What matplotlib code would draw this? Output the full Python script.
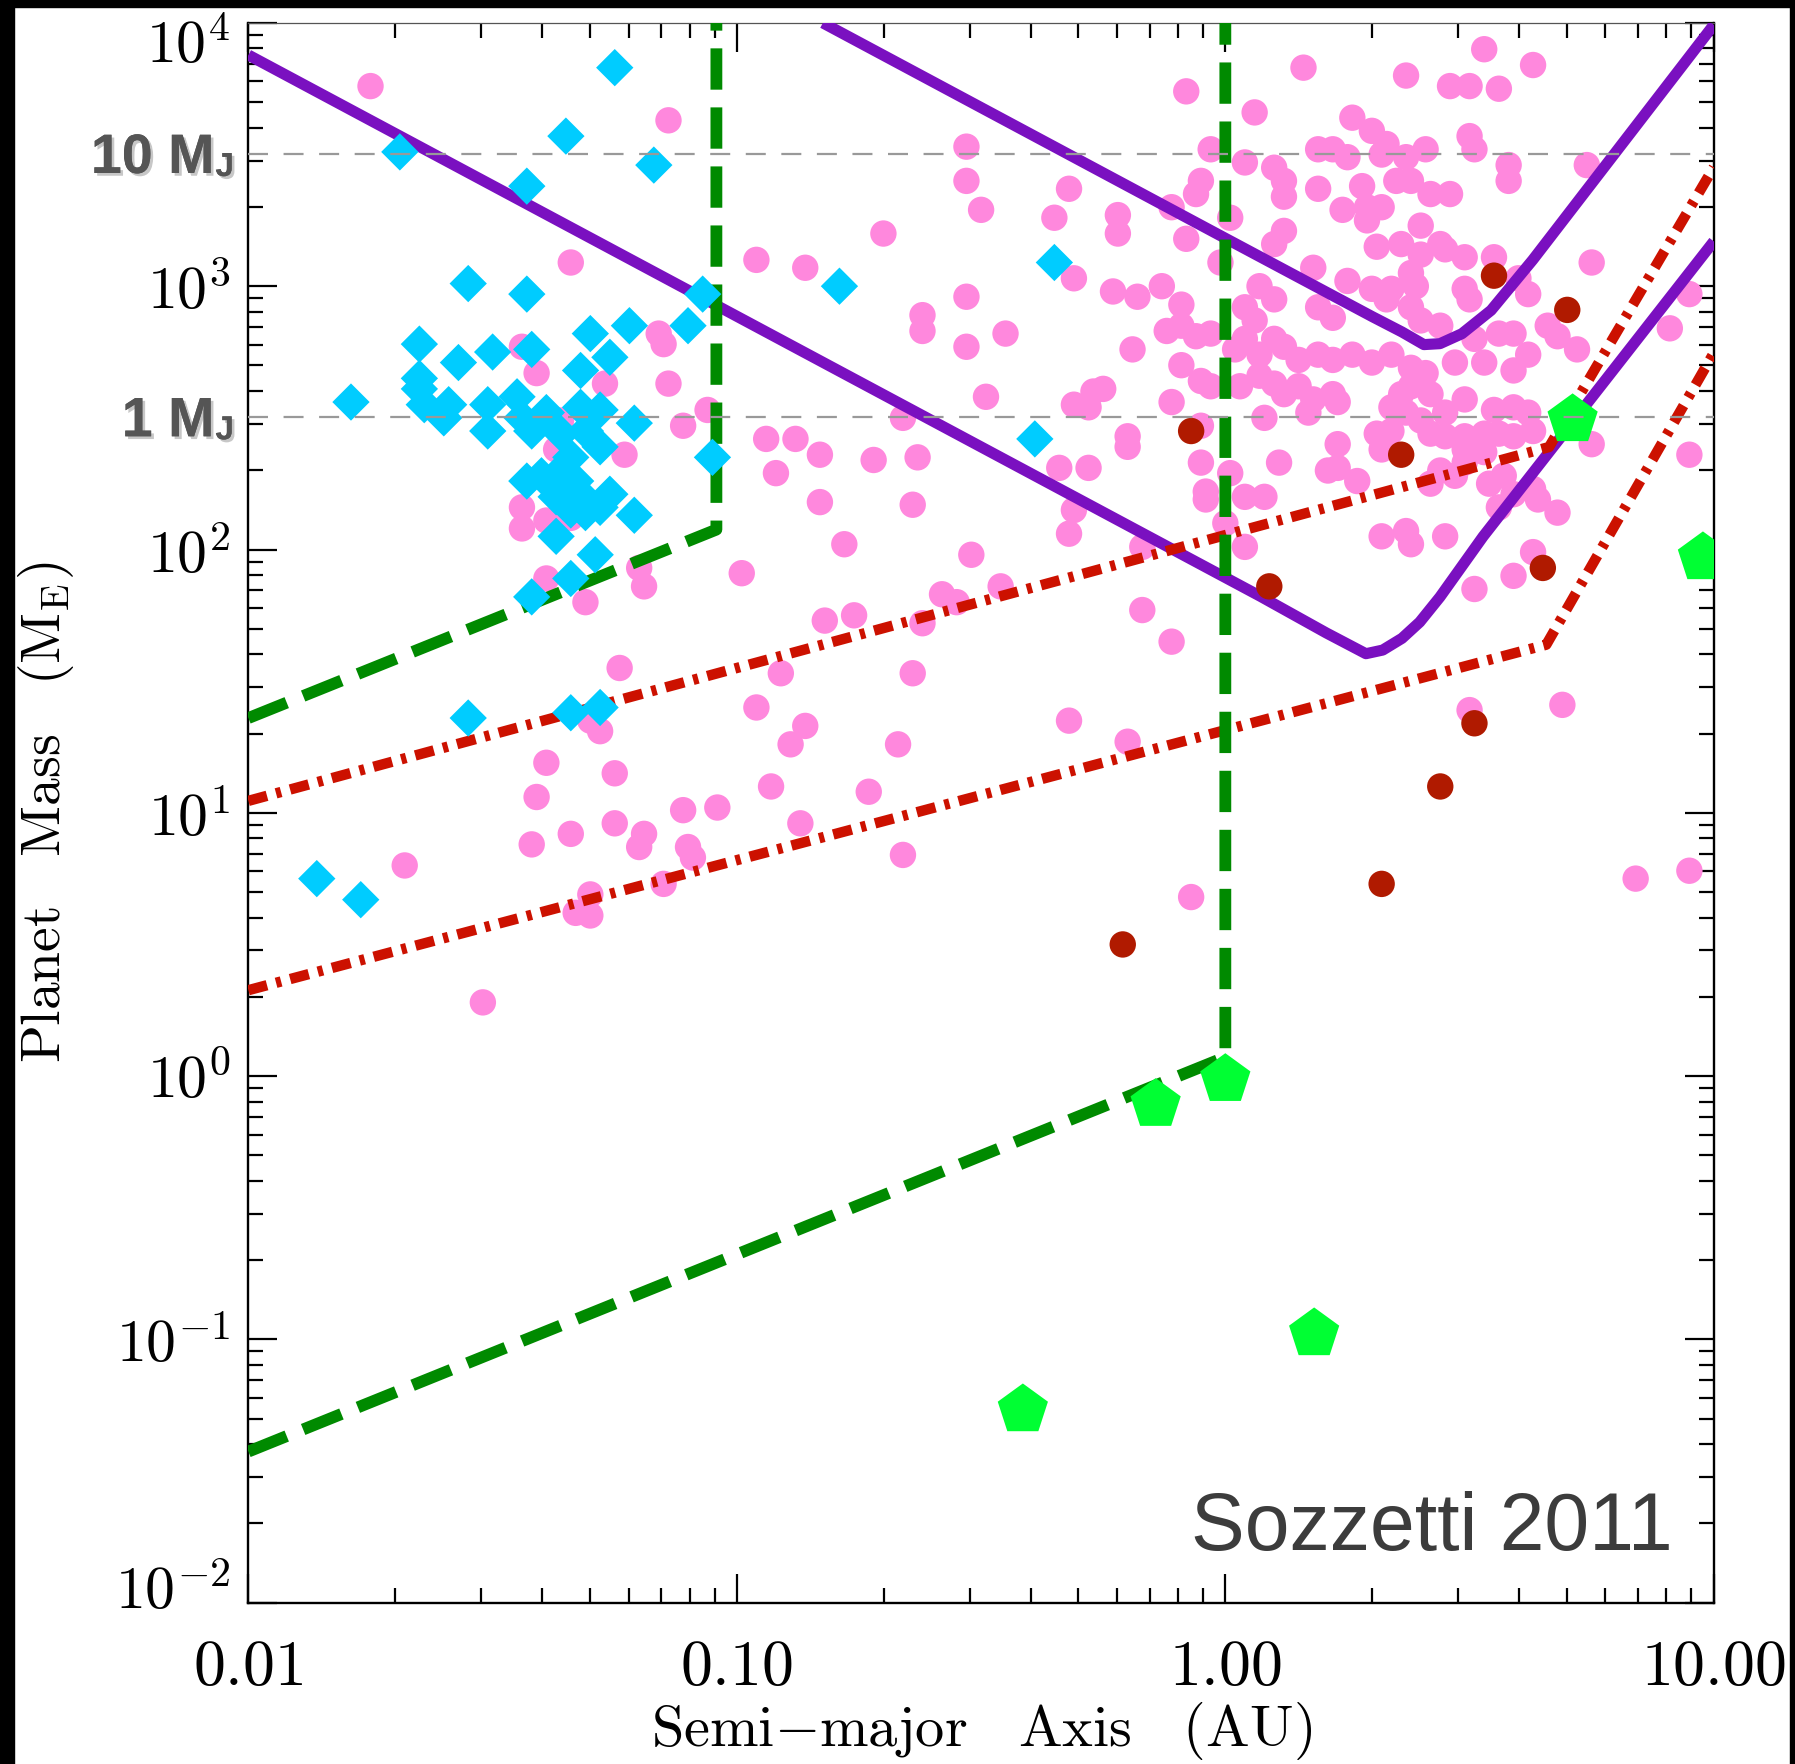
import numpy as np
import matplotlib
matplotlib.use('Agg')
from matplotlib import pyplot as plt
from matplotlib import patheffects
from matplotlib.patches import Rectangle
from matplotlib.ticker import LogLocator, NullFormatter
import matplotlib.transforms as mtransforms

plt.rcParams['mathtext.fontset'] = 'cm'

# ---- data (log10 of a [AU] and of M [Earth masses]) ----
# known exoplanets found by radial velocity (pink)
pink_loga = [-1.75, -1.14, -1.34, -1.16, -1.15, -1.44, -1.41, -1.27, -1.14, -1.06,
             -1.11, -1.23, -1.36, -1.37, -1.44, -1.44, -1.39, -1.34, -1.39, -1.31,
             -1.20, -1.19, -0.99, -1.24, -1.30, -1.28, -0.96, -1.39, -1.25, -1.41,
             -1.25, -1.19, -1.20, -1.11, -1.04, -1.34, -1.42, -1.10, -1.09, -1.68,
             -1.30, -1.15, -1.33, -1.30, -1.52, -0.96, -0.86, -0.70, -0.53, -0.53,
             -0.50, -0.32, -0.35, -0.22, -0.22, -0.11, -0.08, -0.08, -0.31, -0.53,
             -0.62, -0.62, -0.53, -0.45, -0.23, -0.18, -0.13, -0.19, -0.09, -0.49,
             -0.27, -0.31, -0.28, -0.11, -0.94, -0.88, -0.83, -0.72, -0.63, -0.92,
             -0.66, -0.83, -0.64, -0.20, -0.34, -0.28, -0.31, -0.32, -0.78, -0.52,
             -0.46, -0.58, -0.55, -0.17, -0.82, -0.76, -0.62, -0.17, -0.11, 0.00,
             0.04, -0.04, -0.91, -0.64, -0.86, -0.89, -0.67, -0.32, -0.20, -0.93,
             -0.73, -0.87, -0.66, -0.07, 0.06, 0.26, 0.30, 0.33, 0.50, 0.51,
             0.19, 0.22, 0.25, 0.32, 0.37, 0.41, 0.58, 0.58, 0.74, -0.03,
             0.04, 0.10, 0.12, -0.05, -0.06, 0.19, 0.12, 0.28, 0.35, 0.38,
             0.42, 0.46, 0.24, 0.29, 0.32, 0.29, 0.40, 0.01, 0.12, 0.10,
             0.31, 0.36, 0.40, 0.44, 0.45, 0.49, 0.55, 0.75, -0.01, 0.18,
             0.25, 0.30, 0.34, 0.38, 0.39, 0.49, 0.50, 0.62, -0.09, 0.07,
             0.10, 0.04, 0.06, 0.19, 0.22, 0.33, 0.38, 0.40, 0.44, 0.66,
             0.68, 0.72, -0.12, -0.09, -0.06, -0.03, 0.07, 0.02, 0.04, 0.10,
             0.12, 0.15, 0.19, 0.22, 0.26, 0.30, 0.34, 0.38, 0.41, 0.47,
             0.51, 0.53, 0.56, 0.59, 0.59, 0.62, -0.05, -0.03, 0.07, 0.10,
             0.03, 0.12, 0.15, 0.18, 0.22, 0.23, 0.36, 0.34, 0.38, 0.42,
             0.49, 0.08, 0.17, 0.37, 0.40, 0.45, 0.55, 0.59, 0.62, -0.25,
             -0.20, -0.05, 0.23, 0.31, 0.32, 0.34, 0.42, 0.45, 0.49, 0.53,
             0.56, 0.59, 0.49, 0.53, 0.63, 0.75, -0.05, 0.01, 0.11, 0.21,
             0.23, 0.27, 0.44, 0.47, 0.49, 0.54, 0.57, 0.59, 0.63, 0.56,
             0.68, 0.64, -0.04, 0.04, 0.08, 0.42, 0.32, 0.37, 0.38, 0.45,
             0.63, 0.59, 0.51, 0.53, 0.16, 0.37, 0.46, 0.50, 0.56, 0.63,
             0.95, 0.91, 0.95, 0.60, 0.50, 0.69, 0.84, 0.95]
pink_logm = [3.76, 3.63, 3.09, 2.82, 2.78, 2.77, 2.67, 2.63, 2.63, 2.53,
             2.47, 2.36, 2.49, 2.38, 2.16, 2.08, 2.11, 2.12, 1.89, 1.80,
             1.93, 1.86, 1.91, 1.55, 1.35, 1.31, 1.40, 1.19, 1.15, 1.06,
             0.96, 0.92, 0.87, 1.01, 1.02, 0.92, 0.88, 0.87, 0.83, 0.80,
             0.69, 0.73, 0.62, 0.61, 0.28, 3.10, 3.07, 3.20, 3.53, 3.40,
             3.29, 3.37, 3.26, 3.27, 3.20, 3.30, 3.74, 3.18, 3.03, 2.96,
             2.89, 2.83, 2.77, 2.82, 2.98, 2.96, 3.00, 2.76, 2.70, 2.58,
             2.60, 2.55, 2.54, 2.56, 2.42, 2.42, 2.36, 2.34, 2.35, 2.29,
             2.50, 2.18, 2.17, 2.43, 2.31, 2.31, 2.15, 2.06, 2.02, 1.98,
             1.86, 1.83, 1.80, 2.01, 1.73, 1.75, 1.72, 1.77, 1.65, 2.10,
             2.01, 2.19, 1.53, 1.53, 1.33, 1.26, 1.26, 1.35, 1.27, 1.10,
             1.08, 0.96, 0.84, 0.68, 3.66, 3.64, 3.59, 3.54, 3.57, 3.52,
             3.52, 3.52, 3.49, 3.50, 3.49, 3.52, 3.46, 3.40, 3.46, 3.52,
             3.47, 3.45, 3.40, 3.40, 3.35, 3.37, 3.34, 3.38, 3.40, 3.40,
             3.35, 3.35, 3.29, 3.30, 3.30, 3.25, 3.23, 3.26, 3.21, 3.16,
             3.15, 3.16, 3.12, 3.16, 3.14, 3.11, 3.11, 3.09, 3.09, 3.07,
             3.02, 2.99, 2.99, 3.05, 3.00, 2.99, 2.95, 2.97, 2.93, 3.00,
             2.95, 2.92, 2.87, 2.92, 2.88, 2.95, 2.92, 2.87, 2.85, 2.85,
             2.81, 2.76, 2.83, 2.85, 2.81, 2.82, 2.74, 2.76, 2.80, 2.80,
             2.77, 2.72, 2.74, 2.72, 2.74, 2.71, 2.74, 2.69, 2.67, 2.71,
             2.80, 2.71, 2.82, 2.82, 2.68, 2.74, 2.64, 2.62, 2.66, 2.63,
             2.62, 2.59, 2.62, 2.57, 2.59, 2.56, 2.59, 2.54, 2.62, 2.59,
             2.57, 2.50, 2.52, 2.52, 2.49, 2.52, 2.53, 2.54, 2.52, 2.61,
             2.39, 2.47, 2.40, 2.44, 2.38, 2.45, 2.44, 2.43, 2.43, 2.44,
             2.44, 2.43, 2.38, 2.37, 2.45, 2.40, 2.33, 2.29, 2.33, 2.30,
             2.31, 2.26, 2.30, 2.28, 2.33, 2.25, 2.28, 2.21, 2.23, 2.16,
             2.14, 2.19, 2.22, 2.20, 2.20, 2.25, 2.05, 2.07, 2.02, 2.05,
             1.99, 1.90, 1.85, 3.90, 3.83, 3.80, 3.76, 3.76, 3.75, 3.84,
             2.97, 2.84, 2.36, 3.03, 1.39, 1.41, 0.75, 0.78]

# transiting planets (cyan diamonds)
cyan_loga = [-1.25, -1.69, -1.35, -1.17, -1.43, -1.55, -1.43, -1.07, -0.79, -0.35,
             -1.65, -1.57, -1.50, -1.42, -1.30, -1.22, -1.10, -1.26, -1.32, -1.79,
             -1.65, -1.65, -1.64, -1.59, -1.60, -1.51, -1.51, -1.45, -1.44, -1.39,
             -1.32, -1.28, -1.21, -1.42, -1.36, -1.31, -1.28, -1.34, -1.36, -1.43,
             -1.40, -1.33, -1.32, -1.37, -1.26, -1.28, -1.34, -1.31, -1.21, -1.37,
             -1.29, -1.34, -1.42, -1.05, -0.39, -1.55, -1.34, -1.28, -1.86, -1.77]
cyan_logm = [3.83, 3.51, 3.57, 3.46, 3.38, 3.01, 2.97, 2.97, 3.00, 3.09,
             2.78, 2.71, 2.75, 2.76, 2.82, 2.85, 2.85, 2.73, 2.68, 2.56,
             2.65, 2.61, 2.55, 2.55, 2.50, 2.55, 2.45, 2.58, 2.50, 2.52,
             2.54, 2.53, 2.48, 2.45, 2.44, 2.45, 2.39, 2.35, 2.30, 2.26,
             2.28, 2.26, 2.21, 2.20, 2.21, 2.16, 2.15, 2.14, 2.13, 2.05,
             1.98, 1.89, 1.82, 2.35, 2.42, 1.36, 1.38, 1.40, 0.75, 0.67]

# microlensing planets (dark red)
lens_loga = [-0.07, 0.36, 0.55, 0.70, 0.65, 0.09, 0.51, 0.44, 0.32, -0.21]
lens_logm = [2.45, 2.36, 3.04, 2.91, 1.93, 1.86, 1.34, 1.10, 0.73, 0.50]

# solar system planets (green pentagons), AU and Earth masses
solar_a = [0.385, 0.72, 1.0, 1.52, 5.14, 9.5]
solar_m = [0.054, 0.78, 0.97, 0.105, 311, 93]

# Gaia astrometric sensitivity curves (purple)
gaia1_a = [0.01, 1.18, 1.61, 1.94, 2.10, 2.30, 2.50, 2.75, 3.37, 5.14, 10.0]
gaia1_m = [7550, 66.4, 48.2, 40.2, 41.5, 46.0, 53.0, 66.0, 112, 305, 1480]
gaia2_a = [0.150, 0.986, 2.0, 2.30, 2.55, 2.75, 3.05, 3.50, 4.26, 10.0]
gaia2_m = [10000, 1542, 766, 670, 600, 605, 660, 810, 1259, 9830]

# radial-velocity limits (red dash-dot)
rv1_a = [0.01, 4.60, 10.0]
rv1_m = [11.1, 245, 2830]
rv2_a = [0.01, 4.54, 10.0]
rv2_m = [2.12, 43.5, 558]

# transit limits (green dashed)
tr1_a = [0.01, 0.0908, 0.0908]
tr1_m = [22.9, 119, 10000]
tr2_a = [0.01, 1.0, 1.0]
tr2_m = [0.0375, 1.18, 10000]

# Jupiter-mass reference levels in Earth masses
mj_levels = [3178.0, 317.8]
mj_texts = ['10 M', '1 M']

xtick_vals = [0.01, 0.1, 1.0, 10.0]
xtick_labels = [r'$0.01$', r'$0.10$', r'$1.00$', r'$10.00$']
ytick_vals = [1e-2, 1e-1, 1e0, 1e1, 1e2, 1e3, 1e4]
ytick_labels = [r'$10^{-2}$', r'$10^{-1}$', r'$10^{0}$', r'$10^{1}$',
                r'$10^{2}$', r'$10^{3}$', r'$10^{4}$']

# ---- figure ----
W, H = 1795, 1764
fig = plt.figure(figsize=(W / 100, H / 100), dpi=100)
fig.patch.set_facecolor('white')
ax = fig.add_axes([248.4 / W, 1 - 1602.7 / H, 1465.4 / W, 1579.8 / H])
ax.set_xscale('log')
ax.set_yscale('log')
ax.set_xlim(0.01, 10)
ax.set_ylim(0.01, 1e4)

ax.scatter(10 ** np.array(pink_loga), 10 ** np.array(pink_logm), s=19 ** 2,
           marker='o', color='#FF88DD', edgecolors='none', zorder=2)

for xa, ym in [(gaia1_a, gaia1_m), (gaia2_a, gaia2_m)]:
    ax.plot(xa, ym, color='#7A10C0', lw=8, solid_joinstyle='round',
            solid_capstyle='butt', zorder=3)
for xa, ym in [(rv1_a, rv1_m), (rv2_a, rv2_m)]:
    ax.plot(xa, ym, color='#CC1100', lw=7.5, ls=(0, (1.85, 0.9, 0.5, 0.9)), zorder=3)
for xa, ym in [(tr1_a, tr1_m), (tr2_a, tr2_m)]:
    ax.plot(xa, ym, color='#008A00', lw=8.5, ls=(0, (3.5, 1.5)), zorder=3)

ax.scatter(10 ** np.array(lens_loga), 10 ** np.array(lens_logm), s=19 ** 2,
           marker='o', color='#B01A00', edgecolors='none', zorder=3.5)
ax.scatter(10 ** np.array(cyan_loga), 10 ** np.array(cyan_logm), s=19 ** 2,
           marker='D', color='#00CCFF', edgecolors='none', zorder=4)
ax.scatter(solar_a, solar_m, s=38 ** 2, marker='p', color='#00FF33',
           edgecolors='none', zorder=5)

shadow = [patheffects.withSimplePatchShadow(offset=(2, -2), shadow_rgbFace='black', alpha=0.22),
          patheffects.Normal()]
for lev, txt in zip(mj_levels, mj_texts):
    ax.axhline(lev, color='#999999', lw=1.6, ls=(0, (9, 7)), zorder=6)
    ax.annotate(txt, xy=(0, lev), xycoords=('axes fraction', 'data'),
                xytext=(-34, -19), textcoords='offset pixels', ha='right', va='baseline',
                fontsize=40, fontweight='bold', family='Liberation Sans',
                color='#555555', path_effects=shadow, annotation_clip=False)
    ax.annotate('J', xy=(0, lev), xycoords=('axes fraction', 'data'),
                xytext=(-33, -22), textcoords='offset pixels', ha='left', va='baseline',
                fontsize=24, fontweight='bold', family='Liberation Sans',
                color='#555555', path_effects=shadow, annotation_clip=False)

ax.text(0.972, 0.0334, 'Sozzetti 2011', transform=ax.transAxes, ha='right',
        va='baseline', fontsize=58, color='#3C3C3C', family='Liberation Sans', zorder=7)

# ticks
ax.set_xticks(xtick_vals)
ax.set_xticklabels(xtick_labels)
ax.set_yticks(ytick_vals)
ax.set_yticklabels(ytick_labels)
ax.xaxis.set_minor_locator(LogLocator(base=10, subs=np.arange(2, 10), numticks=20))
ax.yaxis.set_minor_locator(LogLocator(base=10, subs=np.arange(2, 10), numticks=20))
ax.xaxis.set_minor_formatter(NullFormatter())
ax.yaxis.set_minor_formatter(NullFormatter())
ax.tick_params(which='both', direction='in', top=True, right=True, width=1.6, colors='black')
ax.tick_params(which='major', length=21)
ax.tick_params(which='minor', length=11)
ax.tick_params(axis='x', which='major', pad=24, labelsize=46)
ax.tick_params(axis='y', which='major', pad=13, labelsize=43)

yt = ax.yaxis.get_major_ticks()
yt[0].label1.set_transform(yt[0].label1.get_transform() +
                           mtransforms.ScaledTranslation(0, 0.17, fig.dpi_scale_trans))
yt[-1].label1.set_transform(yt[-1].label1.get_transform() +
                            mtransforms.ScaledTranslation(0, -0.17, fig.dpi_scale_trans))

for side in ['left', 'right', 'bottom']:
    ax.spines[side].set_linewidth(1.7)
ax.spines['top'].set_linewidth(0.9)
ax.spines['top'].set_color('#555555')

ax.set_xlabel(r'$\mathrm{Semi{-}major\ \ \ Axis\ \ \ (AU)}$', fontsize=42)
ax.xaxis.set_label_coords(0.5, -0.0815)
ax.xaxis.label.set_va('center')
ax.set_ylabel(r'$\mathrm{Planet\ \ \ Mass\ \ \ (M_{E})}$', fontsize=40)
ax.yaxis.set_label_coords(-0.138, 0.5)
ax.yaxis.label.set_va('center')

# black screenshot border on left, top and right
for x0, y0, w, h in [(0, 0, 14 / W, 1), (0, 1 - 7 / H, 1, 7 / H), (1790 / W, 0, 5 / W, 1)]:
    fig.add_artist(Rectangle((x0, y0), w, h, transform=fig.transFigure,
                             color='black', zorder=20))

fig.savefig('out.png', dpi=100, facecolor=fig.get_facecolor())
